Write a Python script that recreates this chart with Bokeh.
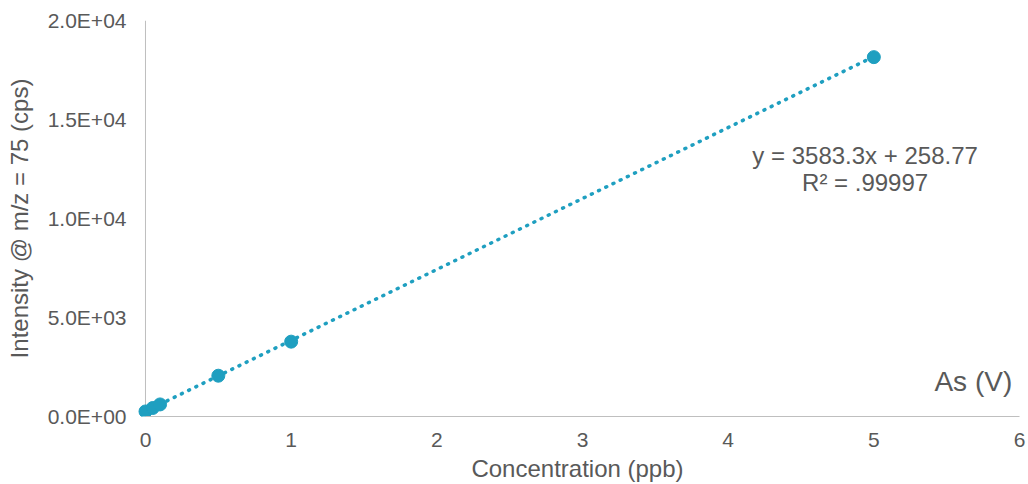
from bokeh.plotting import figure
from bokeh.models import Range1d, FixedTicker, CustomJSTickFormatter, Label, Span
from bokeh.embed import file_html
from bokeh.resources import INLINE

conc = [0, 0.05, 0.1, 0.5, 1, 5]
intensity = [255, 430, 610, 2060, 3780, 18150]
slope = 3583.3
intercept = 258.77
eq_text = "y = 3583.3x + 258.77"
r2_text = "R² = .99997"
series_name = "As (V)"
x_ticks = [0, 1, 2, 3, 4, 5, 6]
y_ticks = [0, 5000, 10000, 15000, 20000]

COLOR = "#1f9fc0"
TXT = "#595959"
FONT = "Liberation Sans"
AXC = "#bfbfbf"

p = figure(width=1028, height=484, output_backend="svg", toolbar_location=None,
           x_range=Range1d(-0.0686, 6), y_range=Range1d(0, 20000),
           min_border_left=135, min_border_right=9, min_border_top=20, min_border_bottom=66)
p.outline_line_color = None
p.grid.visible = False

p.add_layout(Span(location=0, dimension="height", line_color=AXC, line_width=1, level="underlay"))

trend_x = [min(conc), max(conc)]
trend_y = [slope * v + intercept for v in trend_x]
p.line(trend_x, trend_y, line_color=COLOR, line_width=3.5, line_dash="1 7", line_cap="round")
p.scatter(conc, intensity, size=13, fill_color=COLOR, line_color=COLOR)

for ax in (p.xaxis[0], p.yaxis[0]):
    ax.axis_line_color = AXC
    ax.axis_line_width = 1
    ax.major_tick_line_color = None
    ax.minor_tick_line_color = None
    ax.major_label_text_color = TXT
    ax.major_label_text_font = FONT
    ax.major_label_text_font_size = "21px"
    ax.axis_label_text_color = TXT
    ax.axis_label_text_font = FONT
    ax.axis_label_text_font_size = "24px"
    ax.axis_label_text_font_style = "normal"

p.yaxis.axis_line_color = None
p.xaxis.bounds = (0, 6)
p.xaxis.ticker = FixedTicker(ticks=x_ticks)
p.yaxis.ticker = FixedTicker(ticks=y_ticks)
p.xaxis.major_label_standoff = 10
p.yaxis.major_label_standoff = 3
p.xaxis.axis_label = "Concentration (ppb)"
p.yaxis.axis_label = "Intensity @ m/z = 75 (cps)"
p.xaxis.axis_label_standoff = 5
p.yaxis.axis_label_standoff = 12
p.yaxis.formatter = CustomJSTickFormatter(code="""
var s = tick.toExponential(1); var parts = s.split('e');
var e = parseInt(parts[1]); var sg = e < 0 ? '-' : '+'; var a = Math.abs(e);
return parts[0] + 'E' + sg + (a < 10 ? '0' : '') + a;
""")

for txt, yv in ((eq_text, 13200), (r2_text, 11800)):
    p.add_layout(Label(x=4.94, y=yv, text=txt, text_align="center", text_baseline="middle",
                       text_color=TXT, text_font=FONT, text_font_size="24px"))
p.add_layout(Label(x=5.95, y=1760, text=series_name, text_align="right", text_baseline="middle",
                   text_color=TXT, text_font=FONT, text_font_size="28px"))

open("out.html", "w").write(file_html(p, INLINE))
